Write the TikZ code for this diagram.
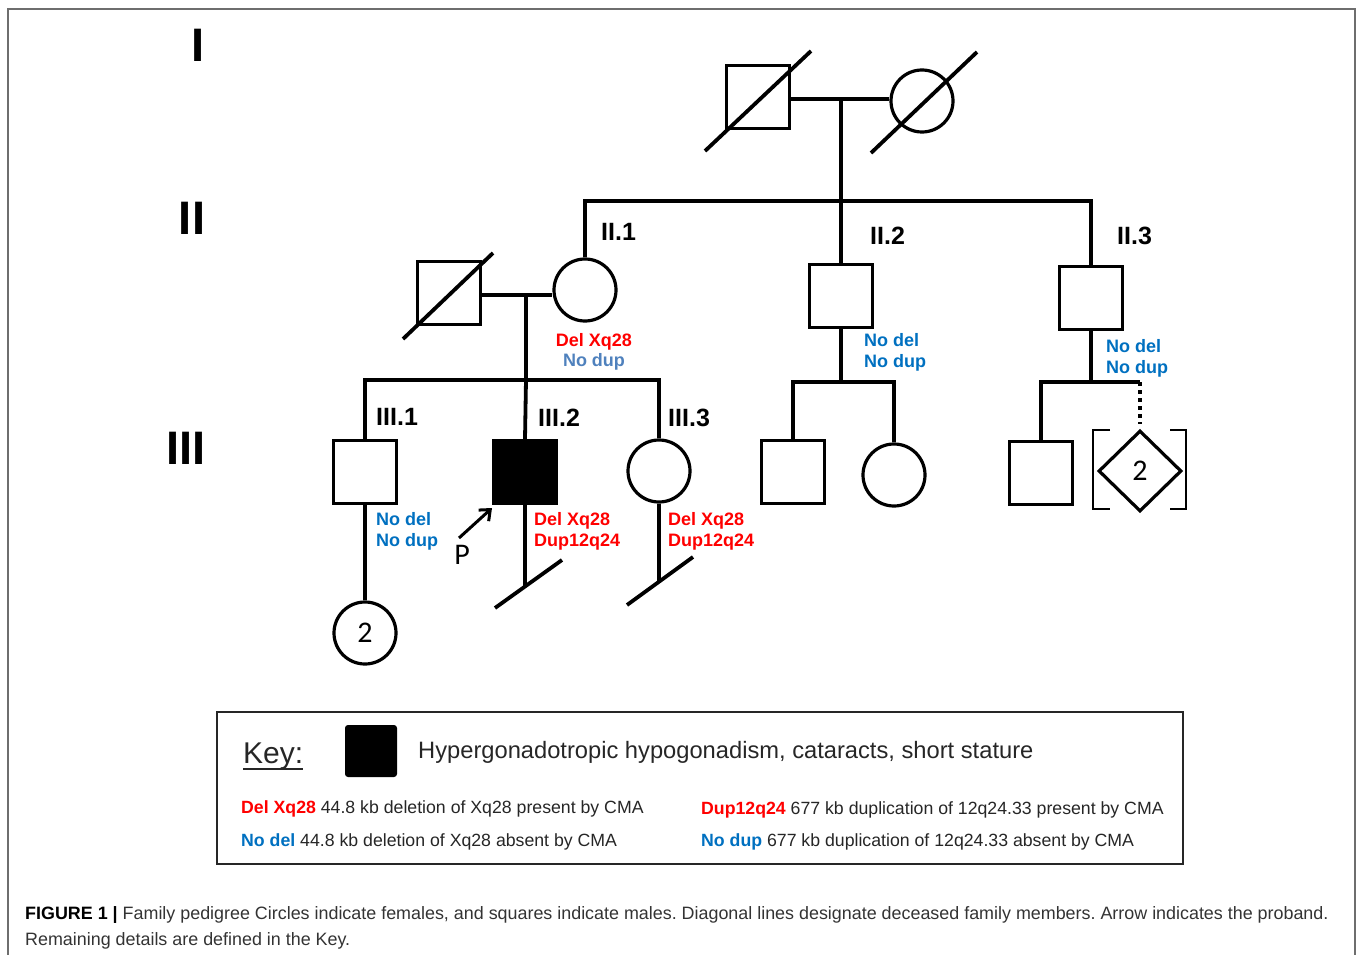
\documentclass[tikz,border=0pt]{standalone}
\usepackage{fontspec}
\setmainfont{Liberation Sans}
\newfontfamily\calib{Carlito}
\usetikzlibrary{shapes.geometric,arrows.meta,calc}
\definecolor{delred}{HTML}{FF0000}
\definecolor{noblue}{HTML}{0070C0}
\definecolor{lightblue}{HTML}{4F81BD}
\definecolor{captxt}{HTML}{333333}
\definecolor{keytxt}{HTML}{262626}
\definecolor{framegray}{HTML}{6E6E6E}
\frenchspacing
\begin{document}
\begin{tikzpicture}[x=1pt,y=-1pt,
  male/.style={draw, line width=3.2pt, rectangle, minimum size=63pt, inner sep=0pt},
  female/.style={draw, line width=3.2pt, circle, minimum size=62pt, inner sep=0pt},
  affected/.style={male, fill=black},
  ln/.style={line width=3.8pt},
  gen/.style={font=\bfseries\fontsize{18}{20}\selectfont, anchor=base west, inner sep=0pt},
  idlab/.style={font=\bfseries\fontsize{25}{28}\selectfont, anchor=base west, inner sep=0pt},
  genno/.style={font=\bfseries\fontsize{47}{50}\selectfont, anchor=base, inner sep=0pt},
  keyline/.style={font=\fontsize{17.7}{20}\selectfont, anchor=base west, inner sep=0pt, text=keytxt},
  capline/.style={font=\fontsize{17.9}{20}\selectfont, anchor=base west, inner sep=0pt, text=captxt},
  cnt/.style={font=\calib\fontsize{30}{32}\selectfont}
]
\useasboundingbox (0,0) rectangle (1358,955);
% frame
\draw[line width=1.5pt, draw=framegray] (8,955) -- (8,9) -- (1355,9) -- (1355,955);

% generation numerals
\node[genno] (gI) at (198,62) {I};
\node[genno] (gII) at (192,234) {II};
\node[genno] (gIII) at (186,464) {III};

% Generation I
\node[male] (I1) at (758,97) {};
\node[female] (I2) at (922,101) {};
\coordinate (m1) at (841,99);
\coordinate (s1) at (841,201);
\draw[ln] (I1.east |- m1) -- (I2.west |- m1);
\draw[ln] (m1) -- (s1);
\draw[ln] (705,151) -- (811,51);
\draw[ln] (871,153) -- (977,52);

% Generation II
\node[female] (II1) at (585,290) {};
\node[male] (II1s) at (449,293) {};
\node[male] (II2) at (841,296) {};
\node[male] (II3) at (1091,298) {};
\draw[line width=4.4pt, line join=miter] (II1.north) -- (II1.north |- s1) -- (II3.north |- s1) -- (II3.north);
\draw[ln] (II2.north) -- (II2.north |- s1);
\coordinate (m2) at (526,295);
\coordinate (s2) at (526,380);
\draw[ln] (II1s.east |- m2) -- (II1.west |- m2);
\draw[ln] (403,339) -- (493,253);
\draw[ln] (m2) -- (s2);

\node[idlab] (lII1) at (601,240) {II.1};
\node[idlab] (lII2) at (870,244) {II.2};
\node[idlab] (lII3) at (1117,244) {II.3};

\node[gen, anchor=base, text=delred] (gtII1a) at (594,346) {Del Xq28};
\node[gen, anchor=base, text=lightblue] (gtII1b) at (594,366) {No dup};
\node[gen, text=noblue] (gtII2a) at (864,346) {No del};
\node[gen, text=noblue] (gtII2b) at (864,367) {No dup};
\node[gen, text=noblue] (gtII3a) at (1106,352) {No del};
\node[gen, text=noblue] (gtII3b) at (1106,373) {No dup};

% Generation III (children of II.1)
\node[male] (III1) at (365,472) {};
\node[affected] (III2) at (525,472) {};
\node[female] (III3) at (659,471) {};
\draw[ln, line join=miter] (III1.north) -- (III1.north |- s2) -- (III3.north |- s2) -- (III3.north);
\draw[ln] (s2) -- (III2.north);

\node[idlab] (lIII1) at (376,425) {III.1};
\node[idlab] (lIII2) at (538,426) {III.2};
\node[idlab] (lIII3) at (668,426) {III.3};

\node[gen, text=noblue] (gtIII1a) at (376,525) {No del};
\node[gen, text=noblue] (gtIII1b) at (376,546) {No dup};
\node[gen, text=delred] (gtIII2a) at (534,525) {Del Xq28};
\node[gen, text=delred] (gtIII2b) at (534,546) {Dup12q24};
\node[gen, text=delred] (gtIII3a) at (668,525) {Del Xq28};
\node[gen, text=delred] (gtIII3b) at (668,546) {Dup12q24};

% offspring of III.1
\node[female, cnt] (IV1) at (365,633) {2};
\draw[ln] (III1.south) -- (IV1.north);

% no offspring markers
\coordinate (e2) at (525,586);
\draw[ln] (III2.south) -- (e2);
\draw[ln] (495,608) -- (562,560);
\coordinate (e3) at (659,581);
\draw[ln] (III3.south) -- (e3);
\draw[ln] (627,605) -- (693,557);

% proband arrow
\coordinate (pa) at (459,538);
\coordinate (pb) at (492,508);
\draw[line width=3pt, -{Straight Barb[length=9pt,width=15pt]}] (pa) -- (pb);
\node[font=\calib\fontsize{30}{32}\selectfont, inner sep=0pt] (P) at (462,555) {P};

% children of II.2
\coordinate (s3) at (841,382);
\node[male] (C21) at (793,472) {};
\node[female] (C22) at (894,475) {};
\draw[ln] (II2.south) -- (s3);
\draw[ln, line join=miter] (C21.north) -- (C21.north |- s3) -- (C22.north |- s3) -- (C22.north);

% children of II.3
\coordinate (s4) at (1091,382);
\node[male] (C31) at (1041,473) {};
\node[draw, diamond, line width=3.2pt, minimum width=83pt, minimum height=81pt, inner sep=0pt, cnt] (D32) at (1140,471) {2};
\draw[ln] (II3.south) -- (s4);
\draw[ln, line join=miter] (C31.north) -- (C31.north |- s4) -- (D32.north |- s4);
\draw[line width=3.8pt, dash pattern=on 4pt off 4pt, shorten >=5pt] (D32.north |- s4) -- (D32.north);
\draw[line width=2.6pt] (1110,430) -- (1093,430) -- (1093,509) -- (1110,509);
\draw[line width=2.6pt] (1170,430) -- (1186,430) -- (1186,509) -- (1170,509);

% Key
\draw[line width=1.8pt, draw=keytxt] (217,712) rectangle (1183,864);
\node[anchor=base west, inner sep=0pt, font=\fontsize{30}{32}\selectfont, text=keytxt] (keylab) at (243,763) {Key:};
\draw[line width=1.6pt, draw=keytxt] ($(keylab.base west)+(0,6)$) -- ($(keylab.base east)+(0,6)$);
\node[fill=black, rounded corners=3pt, minimum size=52pt, inner sep=0pt] (ksq) at (371,751) {};
\node[anchor=base west, inner sep=0pt, font=\fontsize{23.7}{26}\selectfont, text=keytxt] (kdesc) at (418,758) {Hypergonadotropic hypogonadism, cataracts, short stature};
\node[keyline] (kdel) at (241,813) {\textcolor{delred}{\bfseries Del Xq28} 44.8 kb deletion of Xq28 present by CMA};
\node[keyline] (knodel) at (241,846) {\textcolor{noblue}{\bfseries No del} 44.8 kb deletion of Xq28 absent by CMA};
\node[keyline] (kdup) at (701,814) {\textcolor{delred}{\bfseries Dup12q24} 677 kb duplication of 12q24.33 present by CMA};
\node[keyline] (knodup) at (701,846) {\textcolor{noblue}{\bfseries No dup} 677 kb duplication of 12q24.33 absent by CMA};

% Caption
\node[capline] (cap1) at (25,919) {\textcolor{black}{\bfseries FIGURE 1 |} Family pedigree Circles indicate females, and squares indicate males. Diagonal lines designate deceased family members. Arrow indicates the proband.};
\node[capline] (cap2) at (25,945) {Remaining details are defined in the Key.};
\end{tikzpicture}
\end{document}
